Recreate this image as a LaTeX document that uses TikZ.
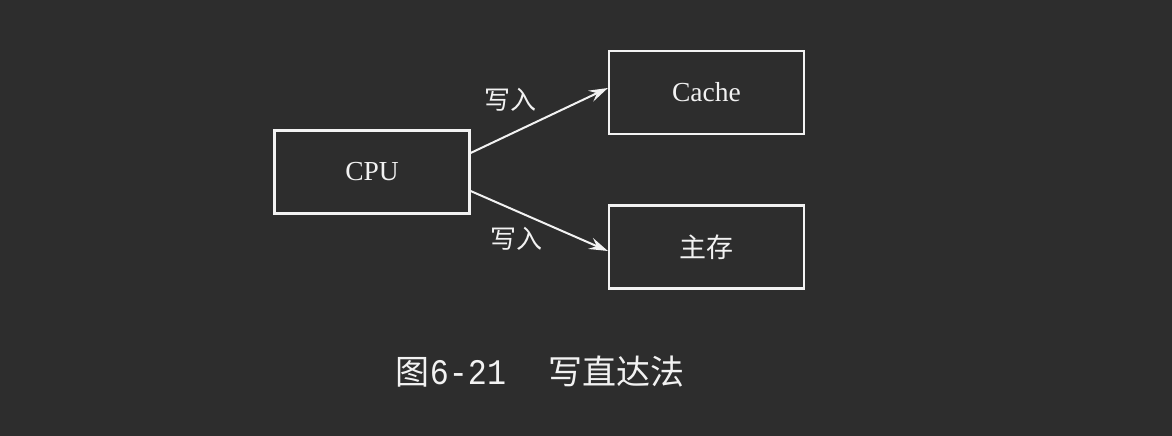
\documentclass[tikz,border=0pt]{standalone}
\usepackage{fontspec}
\usepackage{graphicx}
\setmainfont{Liberation Serif}
\newfontfamily\cjk{Noto Sans CJK SC}
\newfontfamily\capmono{Liberation Mono}
\usetikzlibrary{arrows.meta}
\definecolor{bg}{HTML}{2D2D2D}
\definecolor{fg}{HTML}{F2F2F2}
\begin{document}
\begin{tikzpicture}[x=1pt,y=-1pt,
  box/.style={draw=fg,line width=2.2pt,minimum width=195pt,minimum height=83pt,inner sep=0pt,text=fg,font=\fontsize{27.5}{30}\selectfont},
  conn/.style={draw=fg,line width=2pt,-{Stealth[length=19pt,width=12pt,inset=7pt]}},
  lbl/.style={text=fg,font=\cjk\fontsize{26}{30}\selectfont,inner sep=0pt}]
\fill[bg] (0,0) rectangle (1172,436);
\useasboundingbox (0,0) rectangle (1172,436);
\node[box] (cpu) at (372,172) {CPU};
\node[box] (cache) at (706.5,92.5) {Cache};
\node[box] (mem) at (706.5,247) {\cjk\fontsize{27}{30}\selectfont 主存};
\draw[conn] (cpu.east |- 0,153) coordinate (a1) -- (cache.west |- 0,88);
\draw[conn] (cpu.east |- 0,191) coordinate (a2) -- (mem.west |- 0,251);
\node[lbl] (l1) at (510,100) {写入};
\node[lbl] (l2) at (516,239) {写入};
\node[text=fg,inner sep=0pt] (cap) at (540,372) {\cjk\fontsize{34}{38}\selectfont 图\scalebox{0.88}[1]{\capmono\fontsize{36}{38}\selectfont 6-21}\hspace{42pt}写直达法};
\end{tikzpicture}
\end{document}
